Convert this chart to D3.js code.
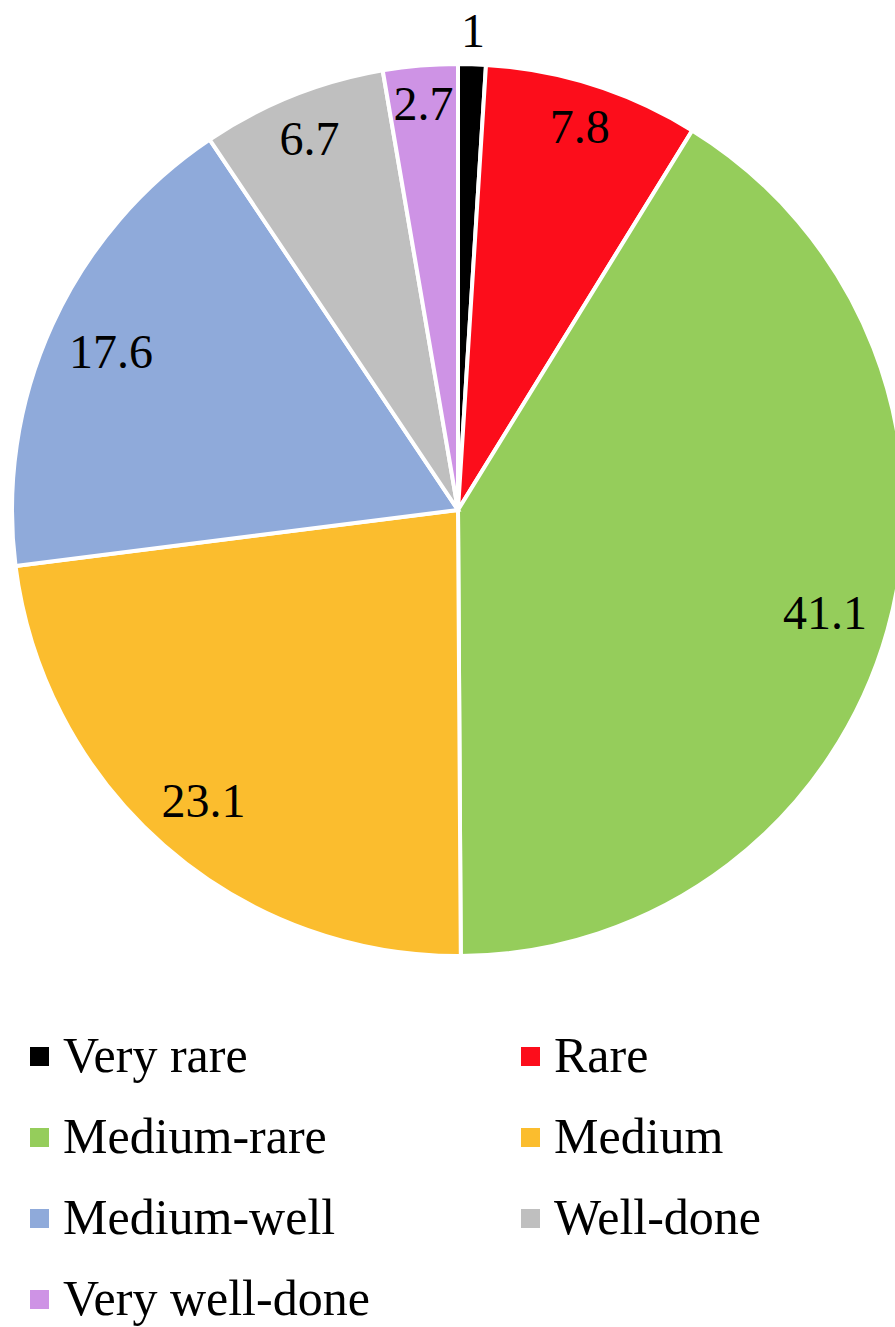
<!DOCTYPE html>
<html>
<head>
<meta charset="utf-8">
<script src="https://cdn.jsdelivr.net/npm/d3@7"></script>
<style>
  html, body { margin: 0; padding: 0; background: #ffffff; }
  svg { display: block; }
</style>
</head>
<body>
<svg id="chart" width="895" height="1327"></svg>
<script>
// Steak doneness preference (%)
const categories = ["Very rare", "Rare", "Medium-rare", "Medium", "Medium-well", "Well-done", "Very well-done"];
const values = [1, 7.8, 41.1, 23.1, 17.6, 6.7, 2.7];
const colors = ["#000000", "#FC0D1B", "#95CD5B", "#FBBD2E", "#8FAADA", "#BFBFBF", "#CE93E5"];

const W = 895, H = 1327;
const cx = 458, cy = 510, R = 446;
const labelFont = 48, legendFont = 50;
const serif = "'Liberation Serif', 'Times New Roman', Times, serif";

const svg = d3.select("#chart");
const data = categories.map((c, i) => ({ category: c, value: values[i], color: colors[i] }));

const pie = d3.pie().value(d => d.value).sort(null);
const arcs = pie(data);
const arc = d3.arc().innerRadius(0).outerRadius(R);

const g = svg.append("g").attr("transform", `translate(${cx},${cy})`);

g.selectAll("path.slice")
  .data(arcs)
  .join("path")
  .attr("class", "slice")
  .attr("d", arc)
  .attr("fill", d => d.data.color)
  .attr("stroke", "#ffffff")
  .attr("stroke-width", 4)
  .attr("stroke-linejoin", "miter");

// Data labels: placed near the outer edge inside each slice; very thin slices get their label outside.
const digitH = labelFont * 0.68;
const innerLimit = R - 18;
const labels = g.selectAll("text.value")
  .data(arcs)
  .join("text")
  .attr("class", "value")
  .attr("font-family", serif)
  .attr("font-size", labelFont)
  .attr("fill", "#000000")
  .attr("text-anchor", "middle")
  .text(d => String(d.data.value));

labels.each(function(d) {
  const w = this.getComputedTextLength();
  const a = (d.startAngle + d.endAngle) / 2;
  const sx = Math.sin(a), sy = -Math.cos(a);
  const hw = w / 2 + 2, hh = digitH / 2;
  const narrow = (d.endAngle - d.startAngle) < 0.1;
  let rho;
  if (narrow) {
    // outside end: nearest box edge sits a little beyond the rim
    rho = R + 17 + Math.abs(sy) * hh + Math.abs(sx) * hw;
  } else {
    // inside end: push outward until the far corner touches the inner limit
    let lo = 0, hi = R;
    for (let k = 0; k < 40; k++) {
      const m = (lo + hi) / 2;
      const px = m * sx + Math.sign(sx || 1) * hw;
      const py = m * sy + Math.sign(sy || 1) * hh;
      if (Math.hypot(px, py) <= innerLimit) lo = m; else hi = m;
    }
    rho = lo;
  }
  const x = rho * sx, y = rho * sy;
  d3.select(this).attr("x", x).attr("y", y + hh);
});

// Legend: two columns
const legend = svg.append("g").attr("class", "legend");
const colX = [30, 521];
const row0 = 1072, rowStep = 81, sq = 19;
const items = legend.selectAll("g.item")
  .data(data)
  .join("g")
  .attr("class", "item")
  .attr("transform", (d, i) => `translate(${colX[i % 2]},${row0 + Math.floor(i / 2) * rowStep})`);

items.append("rect")
  .attr("x", 0)
  .attr("y", -25)
  .attr("width", sq)
  .attr("height", sq)
  .attr("fill", d => d.color);

items.append("text")
  .attr("x", 33)
  .attr("y", 0)
  .attr("font-family", serif)
  .attr("font-size", legendFont)
  .attr("fill", "#000000")
  .text(d => d.category);
</script>
</body>
</html>
